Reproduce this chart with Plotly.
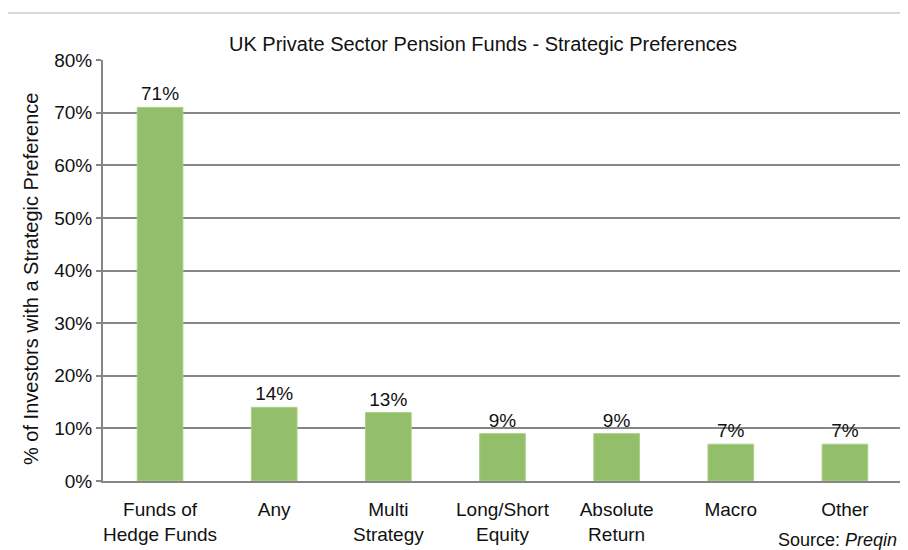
import plotly.graph_objects as go

# Data
categories = ["Funds of<br>Hedge Funds", "Any", "Multi<br>Strategy", "Long/Short<br>Equity",
              "Absolute<br>Return", "Macro", "Other"]
values = [71, 14, 13, 9, 9, 7, 7]
y_ticks = [0, 10, 20, 30, 40, 50, 60, 70, 80]

# the page body adds an 8px offset, so the figure is drawn 8px smaller
OFF = 8
W, H = 908 - OFF, 550 - OFF
L, R, T, B = 103 - OFF, 6, 60 - OFF, 69
font_family = "Liberation Sans, Arial, sans-serif"
grid_color = '#868686'
bar_color = '#93bf6a'

fig = go.Figure(go.Bar(
    x=categories,
    y=values,
    marker=dict(color=bar_color, line=dict(color='#a9cf88', width=1)),
    text=[f"{v}%" for v in values],
    textposition='outside',
    textfont=dict(size=19, color='#111111', family=font_family),
    cliponaxis=False,
    width=0.4,
))

# helpers: page pixel -> paper coords
def px_x(p):
    return (p - OFF - L) / (W - L - R)

def px_y(p):
    return (H - B - (p - OFF)) / (H - T - B)

border = '#d9d9d9'
shapes = [
    dict(type='line', xref='paper', yref='paper', x0=px_x(5), x1=px_x(920),
         y0=px_y(13), y1=px_y(13), line=dict(color=border, width=2)),
    dict(type='line', xref='paper', yref='paper', x0=px_x(5), x1=px_x(5),
         y0=px_y(13), y1=px_y(560), line=dict(color=border, width=2)),
]

fig.update_layout(
    width=W, height=H,
    margin=dict(l=L, r=R, t=T, b=B, autoexpand=False),
    paper_bgcolor='white',
    plot_bgcolor='white',
    font=dict(family=font_family, color='#111111', size=19),
    title=dict(text='UK Private Sector Pension Funds - Strategic Preferences',
               x=(483 - OFF) / W, xanchor='center', xref='container',
               y=1 - (44 - OFF) / H, yanchor='middle', yref='container',
               font=dict(size=20, color='#111111')),
    showlegend=False,
    shapes=shapes,
    xaxis=dict(
        showgrid=False,
        showline=True, linecolor=grid_color, linewidth=2,
        ticks='outside', ticklen=10, tickcolor='rgba(0,0,0,0)',
        tickfont=dict(size=19),
    ),
    yaxis=dict(
        range=[0, 80],
        tickvals=y_ticks,
        ticktext=[f"{v}%" for v in y_ticks],
        showgrid=True, gridcolor=grid_color, gridwidth=1.5,
        showline=True, linecolor=grid_color, linewidth=2,
        ticks='outside', ticklen=5, tickcolor=grid_color, tickwidth=1.5,
        tickfont=dict(size=19),
        zeroline=False,
    ),
    annotations=[
        dict(text='% of Investors with a Strategic Preference', xref='paper', yref='paper',
             x=px_x(31), y=px_y(279), xanchor='center', yanchor='middle', textangle=-90,
             showarrow=False, font=dict(size=20, color='#111111')),
        dict(text='Source: <i>Preqin</i>', xref='paper', yref='paper',
             x=px_x(776), y=px_y(540), xanchor='left', yanchor='middle',
             showarrow=False, font=dict(size=18, color='#111111')),
    ],
)

fig.write_html("out.html")
